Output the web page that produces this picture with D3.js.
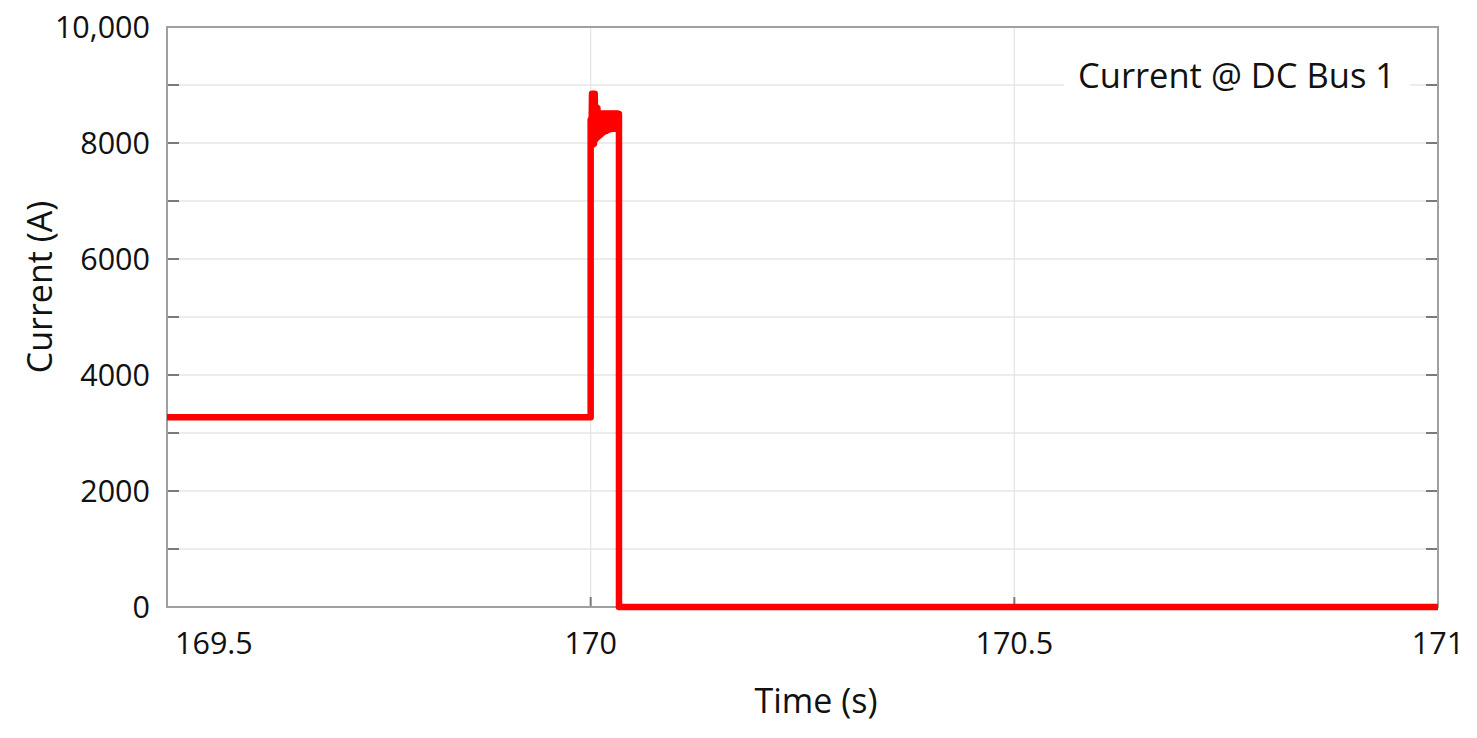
<!DOCTYPE html>
<html>
<head>
<meta charset="utf-8">
<title>Current @ DC Bus 1</title>
<script src="https://cdn.jsdelivr.net/npm/d3@7"></script>
<style>
	body { margin: 0; background: #fff; }
	text { font-family: "Open Sans", "Noto Sans", sans-serif; fill: #111; }
</style>
</head>
<body>
<div id="chart"></div>
<script>
//data (time in s, current in A)
var steadyTimes = [169.5, 170.0];
var steadyCurrents = [3270, 3270];

var burstTimes = [170.0000, 170.0008, 170.0016, 170.0024, 170.0032, 170.0040, 170.0048, 170.0056,
	170.0064, 170.0072, 170.0080, 170.0088, 170.0096, 170.0104, 170.0112, 170.0120, 170.0128,
	170.0136, 170.0144, 170.0152, 170.0160, 170.0168, 170.0176, 170.0184, 170.0192, 170.0200,
	170.0208, 170.0216, 170.0224, 170.0232, 170.0240, 170.0248, 170.0256, 170.0264, 170.0272,
	170.0280, 170.0288, 170.0296, 170.0304, 170.0312, 170.0320, 170.0328, 170.0334];
var burstCurrents = [8400, 7970, 8850, 7970, 8850, 7990, 8850, 8060,
	8620, 8090, 8600, 8110, 8510, 8130, 8510, 8150, 8510,
	8170, 8510, 8190, 8510, 8200, 8510, 8210, 8510, 8220,
	8510, 8230, 8510, 8240, 8510, 8240, 8510, 8245, 8510,
	8245, 8510, 8245, 8510, 8245, 8510, 8250, 8500];

var tailTimes = [170.0334, 171.0];
var tailCurrents = [0, 0];

var xTicks = [169.5, 170, 170.5, 171];
var xTickLabels = ["169.5", "170", "170.5", "171"];
var yGridValues = [0, 1000, 2000, 3000, 4000, 5000, 6000, 7000, 8000, 9000, 10000];
var yTicks = [0, 2000, 4000, 6000, 8000, 10000];
var yTickLabels = ["0", "2000", "4000", "6000", "8000", "10,000"];

var seriesLabel = "Current @ DC Bus 1";

function init(){
	lineChart();
}

function lineChart(){
	var width = 1477;
	var height = 738;
	var left = 167, right = 1438, top = 27, bottom = 607;

	var svg = d3.select("#chart").append("svg")
				.attr("width", width)
				.attr("height", height);

	var x = d3.scaleLinear().domain([169.5, 171]).range([left, right]);
	var y = d3.scaleLinear().domain([0, 10000]).range([bottom, top]);

	//build the point list from the named arrays
	var times = steadyTimes.concat(burstTimes, tailTimes);
	var currents = steadyCurrents.concat(burstCurrents, tailCurrents);
	var points = times.map(function(t, i){ return [t, currents[i]]; });

	//horizontal grid lines
	svg.append("g")
		.selectAll("line")
		.data(yGridValues)
		.enter().append("line")
		.attr("x1", left)
		.attr("x2", right)
		.attr("y1", d => y(d))
		.attr("y2", d => y(d))
		.attr("stroke", "#e6e6e6")
		.attr("stroke-width", 1.3);

	//vertical grid lines
	svg.append("g")
		.selectAll("line")
		.data([170, 170.5])
		.enter().append("line")
		.attr("x1", d => x(d))
		.attr("x2", d => x(d))
		.attr("y1", top)
		.attr("y2", bottom)
		.attr("stroke", "#e6e6e6")
		.attr("stroke-width", 1.3);

	//inner ticks on left and right
	var tickLen = 12;
	svg.append("g")
		.selectAll("line")
		.data(yGridValues.slice(1, -1))
		.enter().append("line")
		.attr("x1", left)
		.attr("x2", left + tickLen)
		.attr("y1", d => y(d))
		.attr("y2", d => y(d))
		.attr("stroke", "#7a7a7a")
		.attr("stroke-width", 2);

	svg.append("g")
		.selectAll("line")
		.data(yGridValues.slice(1, -1))
		.enter().append("line")
		.attr("x1", right)
		.attr("x2", right - tickLen)
		.attr("y1", d => y(d))
		.attr("y2", d => y(d))
		.attr("stroke", "#7a7a7a")
		.attr("stroke-width", 2);

	svg.append("g")
		.selectAll("line")
		.data([170, 170.5])
		.enter().append("line")
		.attr("x1", d => x(d))
		.attr("x2", d => x(d))
		.attr("y1", bottom)
		.attr("y2", bottom - 10)
		.attr("stroke", "#7a7a7a")
		.attr("stroke-width", 2);

	//frame
	svg.append("rect")
		.attr("x", left)
		.attr("y", top)
		.attr("width", right - left)
		.attr("height", bottom - top)
		.attr("fill", "none")
		.attr("stroke", "#a0a0a0")
		.attr("stroke-width", 2);

	//legend box with white background
	svg.append("rect")
		.attr("x", 1064)
		.attr("y", 55)
		.attr("width", 346)
		.attr("height", 55)
		.attr("fill", "#fff");

	svg.append("text")
		.attr("x", 1078)
		.attr("y", 88)
		.style("font-size", "34.5px")
		.text(seriesLabel);

	//the current trace
	var line = d3.line()
				 .x(d => x(d[0]))
				 .y(d => y(d[1]));

	svg.append("path")
		.datum(points)
		.attr("d", line)
		.attr("fill", "none")
		.attr("stroke", "#ff0000")
		.attr("stroke-width", 6.5)
		.attr("stroke-linejoin", "round");

	//y tick labels
	svg.append("g")
		.selectAll("text")
		.data(yTicks)
		.enter().append("text")
		.attr("x", 150)
		.attr("y", d => y(d) + 11)
		.attr("text-anchor", "end")
		.style("font-size", "30.5px")
		.text((d, i) => yTickLabels[i]);

	//x tick labels, the first one sits inside the frame edge
	svg.append("g")
		.selectAll("text")
		.data(xTicks)
		.enter().append("text")
		.attr("x", (d, i) => i == 0 ? x(d) + 8 : x(d))
		.attr("y", 654)
		.attr("text-anchor", (d, i) => i == 0 ? "start" : "middle")
		.style("font-size", "30.5px")
		.text((d, i) => xTickLabels[i]);

	//axis titles
	svg.append("text")
		.attr("x", 816)
		.attr("y", 713)
		.attr("text-anchor", "middle")
		.style("font-size", "34px")
		.text("Time (s)");

	svg.append("text")
		.attr("transform", "translate(52," + 287 + ") rotate(-90)")
		.attr("text-anchor", "middle")
		.style("font-size", "34px")
		.text("Current (A)");
}

window.onload = init;
</script>
</body>
</html>
